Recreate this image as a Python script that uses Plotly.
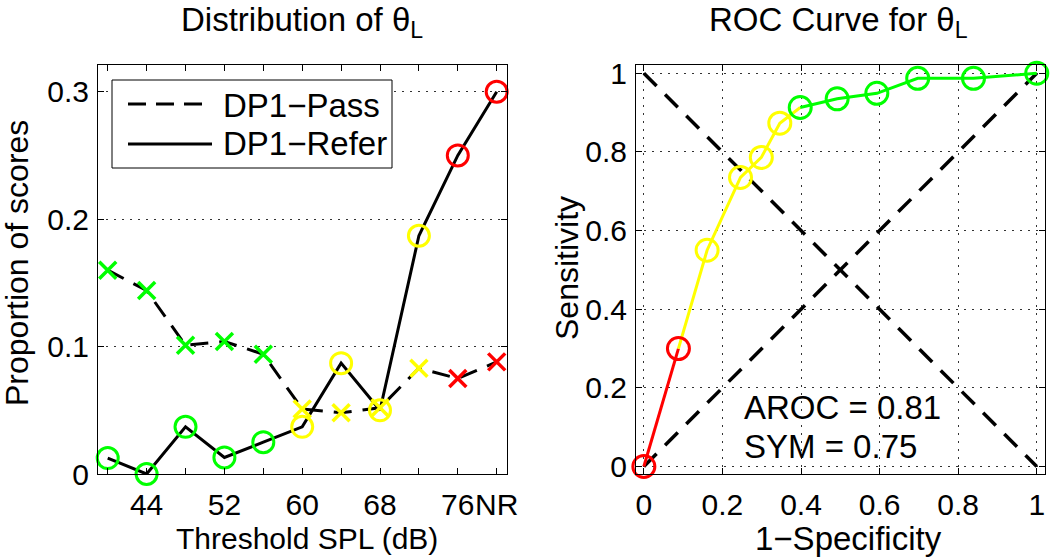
import plotly.graph_objects as go

# ---------------- data ----------------
thresholds = [40, 44, 48, 52, 56, 60, 64, 68, 72, 76, 80]
x_tick_vals = [40, 44, 48, 52, 56, 60, 64, 68, 72, 76, 80]
x_tick_text = ["", "44", "", "52", "", "60", "", "68", "", "76", "NR"]
pass_vals = [0.160, 0.144, 0.101, 0.104, 0.094, 0.051, 0.048, 0.052, 0.083, 0.075, 0.088]
refer_vals = [0.0125, 0.0, 0.037, 0.013, 0.025, 0.037, 0.087, 0.050, 0.187, 0.250, 0.300]
group = ["g", "g", "g", "g", "g", "y", "y", "y", "y", "r", "r"]

roc_fpr = [0.0, 0.088, 0.161, 0.246, 0.299, 0.346, 0.398, 0.492, 0.593, 0.697, 0.839, 1.0]
roc_tpr = [0.0, 0.300, 0.550, 0.735, 0.786, 0.873, 0.913, 0.935, 0.949, 0.987, 0.987, 1.0]
roc_group = ["r", "r", "y", "y", "y", "y", "g", "g", "g", "g", "g", "g"]
roc_segments = [("r", 0, 1), ("y", 1, 6), ("g", 6, 11)]
aroc_text = "AROC = 0.81"
sym_text = "SYM = 0.75"

colors = {"g": "#00ff00", "y": "#ffff00", "r": "#ff0000"}
FONT = "Arial, Liberation Sans, sans-serif"

fig = go.Figure()

# ---------- left panel ----------
fig.add_trace(go.Scatter(x=thresholds, y=pass_vals, mode="lines",
                         line=dict(color="black", width=3, dash="18px,11px"),
                         showlegend=False, xaxis="x", yaxis="y"))
fig.add_trace(go.Scatter(x=thresholds, y=refer_vals, mode="lines",
                         line=dict(color="black", width=3),
                         showlegend=False, xaxis="x", yaxis="y"))
pass_cols = [colors[g] for g in group]
fig.add_trace(go.Scatter(x=thresholds, y=pass_vals, mode="markers",
                         marker=dict(symbol="x-thin-open", size=17, color=pass_cols,
                                     line=dict(color=pass_cols, width=3.5)),
                         showlegend=False, xaxis="x", yaxis="y", cliponaxis=False))
fig.add_trace(go.Scatter(x=thresholds, y=refer_vals, mode="markers",
                         marker=dict(symbol="circle-open", size=21,
                                     color=[colors[g] for g in group],
                                     line=dict(width=3)),
                         showlegend=False, xaxis="x", yaxis="y", cliponaxis=False))

# ---------- right panel ----------
fig.add_trace(go.Scatter(x=[0, 1], y=[0, 1], mode="lines",
                         line=dict(color="black", width=3.5, dash="18px,12px"),
                         showlegend=False, xaxis="x2", yaxis="y2"))
fig.add_trace(go.Scatter(x=[0, 1], y=[1, 0], mode="lines",
                         line=dict(color="black", width=3.5, dash="18px,12px"),
                         showlegend=False, xaxis="x2", yaxis="y2"))
for g, i0, i1 in roc_segments:
    fig.add_trace(go.Scatter(x=roc_fpr[i0:i1 + 1], y=roc_tpr[i0:i1 + 1], mode="lines",
                             line=dict(color=colors[g], width=3),
                             showlegend=False, xaxis="x2", yaxis="y2"))
fig.add_trace(go.Scatter(x=roc_fpr, y=roc_tpr, mode="markers",
                         marker=dict(symbol="circle-open", size=22,
                                     color=[colors[g] for g in roc_group],
                                     line=dict(width=3)),
                         showlegend=False, xaxis="x2", yaxis="y2", cliponaxis=False))

axis_common = dict(showline=True, linecolor="black", linewidth=1, mirror="ticks",
                   ticks="inside", ticklen=6, tickcolor="black", tickwidth=1,
                   tickfont=dict(family=FONT, size=30, color="black"),
                   zeroline=False, automargin=False, tickangle=0)

grid = dict(showgrid=True, gridcolor="#333", griddash="2px,6px", gridwidth=1)

fig.update_layout(
    width=1050, height=557,
    margin=dict(l=0, r=0, t=0, b=0, autoexpand=False),
    paper_bgcolor="white", plot_bgcolor="white",
    font=dict(family=FONT, color="black"),
    xaxis=dict(domain=[98 / 1050, 507 / 1050], range=[39, 81.06],
               tickmode="array", tickvals=x_tick_vals, ticktext=x_tick_text,
               showgrid=False, anchor="y", ticklabelstandoff=4, **axis_common),
    yaxis=dict(domain=[1 - 474 / 557, 1 - 65 / 557], range=[0, 0.321],
               tickmode="array", tickvals=[0, 0.1, 0.2, 0.3], ticktext=["0", "0.1", "0.2", "0.3"],
               anchor="x", ticklabelstandoff=2, **grid, **axis_common),
    xaxis2=dict(domain=[636 / 1050, 1045 / 1050], range=[-0.02, 1.021],
                tickmode="array", tickvals=[0, 0.2, 0.4, 0.6, 0.8, 1],
                ticktext=["0", "0.2", "0.4", "0.6", "0.8", "1"],
                anchor="y2", ticklabelstandoff=4, **grid, **axis_common),
    yaxis2=dict(domain=[1 - 474 / 557, 1 - 65 / 557], range=[-0.019, 1.021],
                tickmode="array", tickvals=[0, 0.2, 0.4, 0.6, 0.8, 1],
                ticktext=["0", "0.2", "0.4", "0.6", "0.8", "1"],
                anchor="x2", ticklabelstandoff=2, **grid, **axis_common),
)

annots = [
    dict(text="Distribution of θ<sub>L</sub>", x=302 / 1050, y=1 - 22 / 557, xref="paper", yref="paper",
         showarrow=False, font=dict(size=33), xanchor="center", yanchor="middle"),
    dict(text="ROC Curve for θ<sub>L</sub>", x=838 / 1050, y=1 - 22 / 557, xref="paper", yref="paper",
         showarrow=False, font=dict(size=33), xanchor="center", yanchor="middle"),
    dict(text="Threshold SPL (dB)", x=307 / 1050, y=1 - 538 / 557, xref="paper", yref="paper",
         showarrow=False, font=dict(size=30), xanchor="center", yanchor="middle"),
    dict(text="1−Specificity", x=848 / 1050, y=1 - 538 / 557, xref="paper", yref="paper",
         showarrow=False, font=dict(size=33), xanchor="center", yanchor="middle"),
    dict(text="Proportion of scores", x=17 / 1050, y=1 - 263 / 557, xref="paper", yref="paper",
         showarrow=False, font=dict(size=32), textangle=-90, xanchor="center", yanchor="middle"),
    dict(text="Sensitivity", x=567 / 1050, y=1 - 268 / 557, xref="paper", yref="paper",
         showarrow=False, font=dict(size=32), textangle=-90, xanchor="center", yanchor="middle"),
    dict(text=aroc_text, x=0.25, y=0.149, xref="x2", yref="y2", showarrow=False,
         font=dict(size=33), xanchor="left", yanchor="middle"),
    dict(text=sym_text, x=0.25, y=0.051, xref="x2", yref="y2", showarrow=False,
         font=dict(size=33), xanchor="left", yanchor="middle"),
    # legend labels
    dict(text="DP1−Pass", x=221 / 1050, y=1 - 105 / 557, xref="paper", yref="paper",
         showarrow=False, font=dict(size=33), xanchor="left", yanchor="middle"),
    dict(text="DP1−Refer", x=221 / 1050, y=1 - 143 / 557, xref="paper", yref="paper",
         showarrow=False, font=dict(size=33), xanchor="left", yanchor="middle"),
]
fig.update_layout(annotations=annots)

shapes = [
    dict(type="rect", xref="paper", yref="paper", x0=112 / 1050, x1=392 / 1050,
         y0=1 - 168 / 557, y1=1 - 80 / 557, line=dict(color="black", width=1),
         fillcolor="white", layer="above"),
    dict(type="line", xref="paper", yref="paper", x0=128 / 1050, x1=212 / 1050,
         y0=1 - 104 / 557, y1=1 - 104 / 557, line=dict(color="black", width=3, dash="18px,10px"),
         layer="above"),
    dict(type="line", xref="paper", yref="paper", x0=128 / 1050, x1=212 / 1050,
         y0=1 - 144 / 557, y1=1 - 144 / 557, line=dict(color="black", width=3),
         layer="above"),
]
fig.update_layout(shapes=shapes)

fig.write_html("out.html", config={"displayModeBar": False},
               post_script="document.body.style.margin='0';document.body.style.overflow='hidden';")
